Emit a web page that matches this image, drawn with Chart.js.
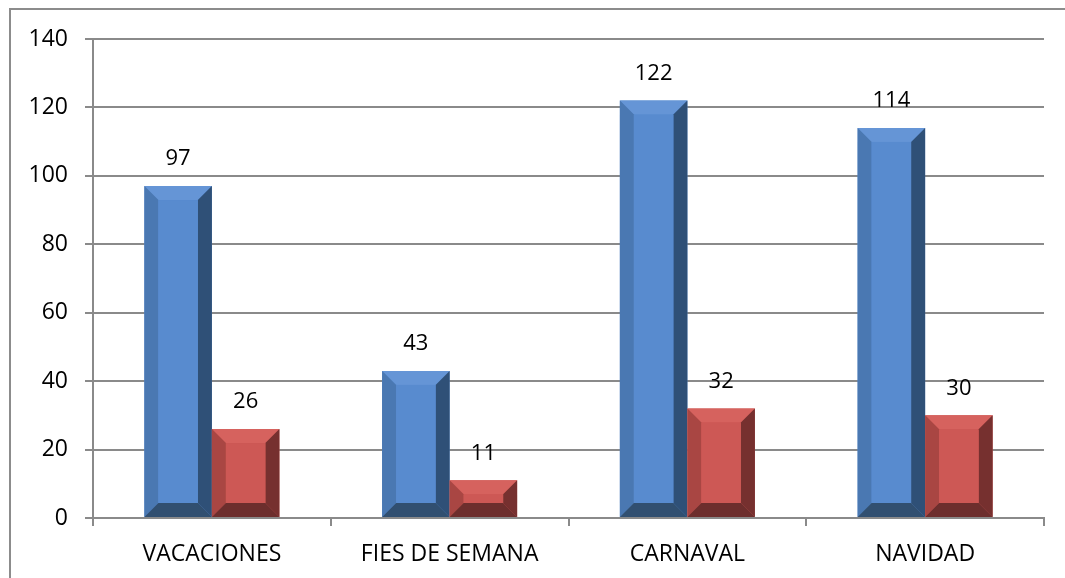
<!DOCTYPE html>
<html>
<head>
<meta charset="utf-8">
<script src="https://cdn.jsdelivr.net/npm/chart.js@4"></script>
<style>
html,body{margin:0;padding:0;background:#fff;}
#wrap{width:1065px;height:578px;position:relative;}
</style>
</head>
<body>
<div id="wrap"><canvas id="c" width="1065" height="578"></canvas></div>
<script>
const categories = ['VACACIONES', 'FIES DE SEMANA', 'CARNAVAL', 'NAVIDAD'];
const seriesBlue = [97, 43, 122, 114];
const seriesRed = [26, 11, 32, 30];
const yTicks = [0, 20, 40, 60, 80, 100, 120, 140];

const FONT = "'Open Sans', 'Liberation Sans', sans-serif";

const bevelColors = [
  {face:'#588bcf', top:'#6595d6', left:'#4a78b2', right:'#2f5077', bottom:'#314f70'},
  {face:'#cd5855', top:'#d6625e', left:'#a94643', right:'#76302f', bottom:'#6d2e2d'}
];

const bevelPlugin = {
  id:'bevel',
  afterDatasetsDraw(chart){
    const ctx = chart.ctx;
    chart.data.datasets.forEach((ds, di) => {
      const meta = chart.getDatasetMeta(di);
      const c = bevelColors[di];
      meta.data.forEach((bar, i) => {
        const w = bar.width;
        const x0 = bar.x - w/2, x1 = bar.x + w/2;
        const yt = bar.y, yb = bar.base;
        const h = yb - yt;
        const b = Math.min(14, w/2.5, h/2);
        const poly = (pts, col) => {
          ctx.beginPath();
          ctx.moveTo(pts[0][0], pts[0][1]);
          for (let k=1;k<pts.length;k++) ctx.lineTo(pts[k][0], pts[k][1]);
          ctx.closePath();
          ctx.fillStyle = col; ctx.fill();
        };
        ctx.save();
        poly([[x0,yt],[x1,yt],[x1,yb],[x0,yb]], c.face);
        poly([[x0,yt],[x1,yt],[x1-b,yt+b],[x0+b,yt+b]], c.top);
        poly([[x0,yt],[x0+b,yt+b],[x0+b,yb-b],[x0,yb]], c.left);
        poly([[x1,yt],[x1,yb],[x1-b,yb-b],[x1-b,yt+b]], c.right);
        poly([[x0,yb],[x0+b,yb-b],[x1-b,yb-b],[x1,yb]], c.bottom);
        ctx.fillStyle = c.face;
        ctx.fillRect(x0+b, yt+b, w-2*b, h-2*b);
        ctx.restore();
      });
    });
  },
  afterDraw(chart){
    const ctx = chart.ctx;
    ctx.save();
    ctx.font = "22px " + FONT;
    ctx.fillStyle = '#000';
    ctx.textAlign = 'center';
    ctx.textBaseline = 'middle';
    chart.data.datasets.forEach((ds, di) => {
      const meta = chart.getDatasetMeta(di);
      meta.data.forEach((bar, i) => {
        ctx.fillText(String(ds.data[i]), bar.x, bar.y - 27);
      });
    });
    ctx.strokeStyle = '#8c8c8c';
    ctx.lineWidth = 2;
    ctx.strokeRect(10, 9, 1200, 700);
    ctx.restore();
  }
};

new Chart(document.getElementById('c'), {
  type:'bar',
  data:{
    labels: categories,
    datasets:[
      {data: seriesBlue, backgroundColor:'rgba(0,0,0,0)', borderWidth:0},
      {data: seriesRed, backgroundColor:'rgba(0,0,0,0)', borderWidth:0}
    ]
  },
  options:{
    responsive:false,
    animation:false,
    devicePixelRatio:1,
    categoryPercentage:0.568,
    barPercentage:1,
    layout:{padding:{top:39, right:21, left:0, bottom:0}},
    plugins:{legend:{display:false}, tooltip:{enabled:false}},
    scales:{
      x:{
        grid:{offset:true, drawOnChartArea:false, drawTicks:true, tickLength:8, color:'#8a8a8a', lineWidth:2},
        border:{color:'#8a8a8a', width:2},
        ticks:{color:'#000', font:{family:FONT, size:23}, padding:15, maxRotation:0},
        afterFit(s){ s.height = 60; }
      },
      y:{
        min:0, max:140,
        afterBuildTicks(s){ s.ticks = yTicks.map(v => ({value:v})); },
        grid:{color:'#8a8a8a', lineWidth:2, drawTicks:true, tickLength:8},
        border:{color:'#8a8a8a', width:2},
        ticks:{color:'#000', font:{family:FONT, size:23}, padding:17},
        afterFit(s){ s.width = 93; }
      }
    }
  },
  plugins:[bevelPlugin]
});
</script>
</body>
</html>
